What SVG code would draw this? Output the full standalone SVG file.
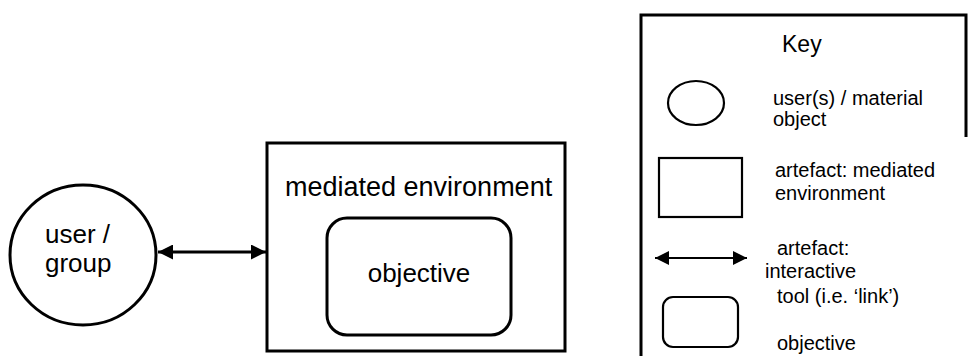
<svg xmlns="http://www.w3.org/2000/svg" width="968" height="356" viewBox="0 0 968 356">
  <style>
    text { font-family: "Liberation Sans", Arial, sans-serif; fill: #000; }
    .big { font-size: 26px; }
    .env { font-size: 27px; }
    .key { font-size: 20px; }
    .title { font-size: 23px; }
    .line { fill: none; stroke: #000; stroke-width: 3; }
    .thin { fill: none; stroke: #000; stroke-width: 2.2; }
  </style>
  <defs>
    <marker id="head" viewBox="0 0 10 10" refX="10" refY="5" markerWidth="5" markerHeight="5" orient="auto-start-reverse" markerUnits="strokeWidth">
      <path d="M0,0 L10,5 L0,10 Z" fill="#000"/>
    </marker>
    <marker id="headK" viewBox="0 0 10 10" refX="10" refY="5" markerWidth="6.5" markerHeight="6.5" orient="auto-start-reverse" markerUnits="strokeWidth">
      <path d="M0,0 L10,5 L0,10 Z" fill="#000"/>
    </marker>
  </defs>
  <rect width="968" height="356" fill="#fff"/>

  <!-- user / group -->
  <g id="user-group">
    <ellipse class="line" cx="83" cy="255" rx="73" ry="70"/>
    <text class="big" x="45" y="243">user /</text>
    <text class="big" x="45" y="272">group</text>
  </g>

  <!-- mediated environment containing the objective -->
  <g id="mediated-environment">
    <rect class="line" x="267" y="143" width="298" height="208"/>
    <text class="env" x="285" y="196">mediated environment</text>
  </g>
  <g id="objective">
    <rect class="line" x="327" y="218" width="184" height="117" rx="20" ry="20"/>
    <text class="big" x="419" y="282" text-anchor="middle">objective</text>
  </g>

  <!-- interactive link between the user and the environment -->
  <g id="connectors">
    <line class="line" x1="158" y1="252" x2="266" y2="252" marker-start="url(#head)" marker-end="url(#head)"/>
  </g>

  <!-- key -->
  <g id="key">
    <path class="line" stroke-width="2.5" d="M641,360 L641,15 L966,15 L966,137"/>
    <text class="title" x="782" y="52">Key</text>

    <ellipse class="thin" cx="696" cy="103" rx="28" ry="22"/>
    <text class="key" x="773" y="105">user(s) / material</text>
    <text class="key" x="773" y="126">object</text>

    <rect class="thin" x="659" y="158" width="83" height="59"/>
    <text class="key" x="775" y="177">artefact: mediated</text>
    <text class="key" x="775" y="200">environment</text>

    <line class="thin" x1="655" y1="258" x2="747" y2="258" marker-start="url(#headK)" marker-end="url(#headK)"/>
    <text class="key" x="777" y="255">artefact:</text>
    <text class="key" x="765" y="278">interactive</text>
    <text class="key" x="777" y="303">tool (i.e. ‘link’)</text>

    <rect class="thin" x="663" y="297" width="75" height="50" rx="10" ry="10"/>
    <text class="key" x="777" y="350">objective</text>
  </g>
</svg>
